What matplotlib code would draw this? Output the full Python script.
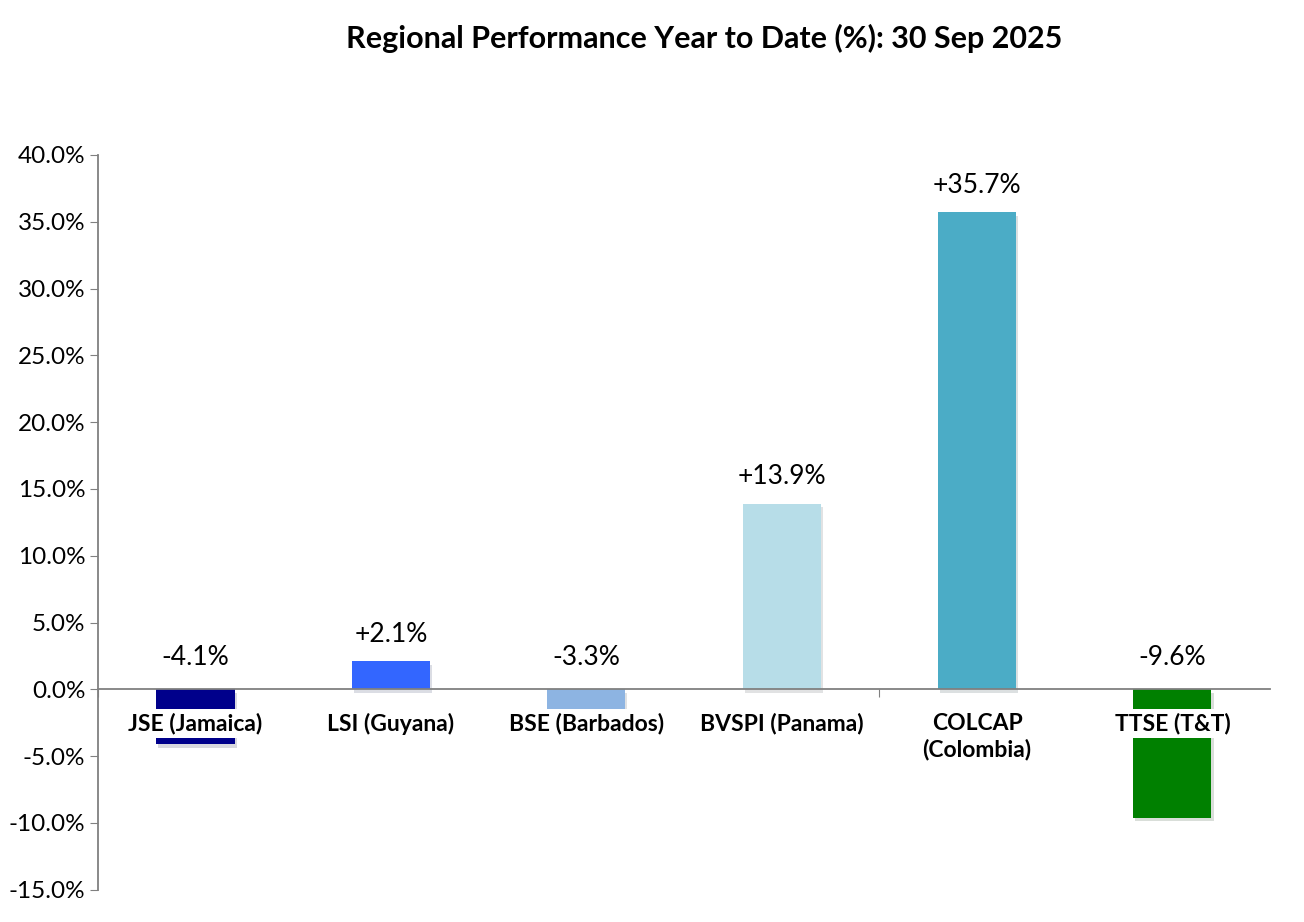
import matplotlib
matplotlib.use("Agg")
import matplotlib.pyplot as plt
import matplotlib.patheffects as pe
from matplotlib.ticker import FuncFormatter, FixedLocator

plt.rcParams['font.family'] = ['Lato', 'DejaVu Sans']

TITLE = "Regional Performance Year to Date (%): 30 Sep 2025"
markets = ["JSE (Jamaica)", "LSI (Guyana)", "BSE (Barbados)", "BVSPI (Panama)",
           "COLCAP\n(Colombia)", "TTSE (T&T)"]
ytd = [-4.1, 2.1, -3.3, 13.9, 35.7, -9.6]
colors = ["#00008B", "#3366FF", "#8DB4E2", "#B7DDE8", "#4BACC6", "#008000"]

fig = plt.figure(figsize=(13.04, 9.22), dpi=100)
ax = fig.add_axes([0.075, 0.035, 0.899, 0.797])

x = list(range(len(ytd)))
bars = ax.bar(x, ytd, width=0.4, color=colors, zorder=2)
for b in bars:
    b.set_path_effects([pe.SimplePatchShadow(offset=(1.5, -2.5), alpha=0.15), pe.Normal()])

ax.set_xlim(-0.5, len(ytd) - 0.5)
ax.set_ylim(-15, 40)
ax.set_yticks(range(-15, 41, 5))
ax.yaxis.set_major_formatter(FuncFormatter(lambda v, p: f"{v:.1f}%"))
ax.tick_params(axis='y', labelsize=17.5, length=6, color='#808080', pad=3)

# category axis drawn at zero, ticks every 4 categories like the source
ax.spines['bottom'].set_position(('data', 0))
ax.xaxis.set_major_locator(FixedLocator([-0.5, 3.5]))
ax.set_xticklabels([])
ax.tick_params(axis='x', length=6, color='#808080', direction='out')
for s in ['top', 'right']:
    ax.spines[s].set_visible(False)
for s in ['left', 'bottom']:
    ax.spines[s].set_color('#808080')
    ax.spines[s].set_linewidth(1.3)

for xi, name in zip(x, markets):
    ax.text(xi, -1.75, name, ha='center', va='top', fontsize=16.5, fontweight='bold',
            zorder=5, linespacing=1.3,
            bbox=dict(facecolor='white', edgecolor='none', pad=2.5))

for xi, v in zip(x, ytd):
    ly = v + 2.0 if v > 0 else 2.4
    ax.text(xi, ly, f"{v:+.1f}%", ha='center', va='center', fontsize=19, zorder=5)

fig.text(0.54, 0.958, TITLE, ha='center', va='center', fontsize=22, fontweight='bold')

fig.savefig("out.png", dpi=100)
